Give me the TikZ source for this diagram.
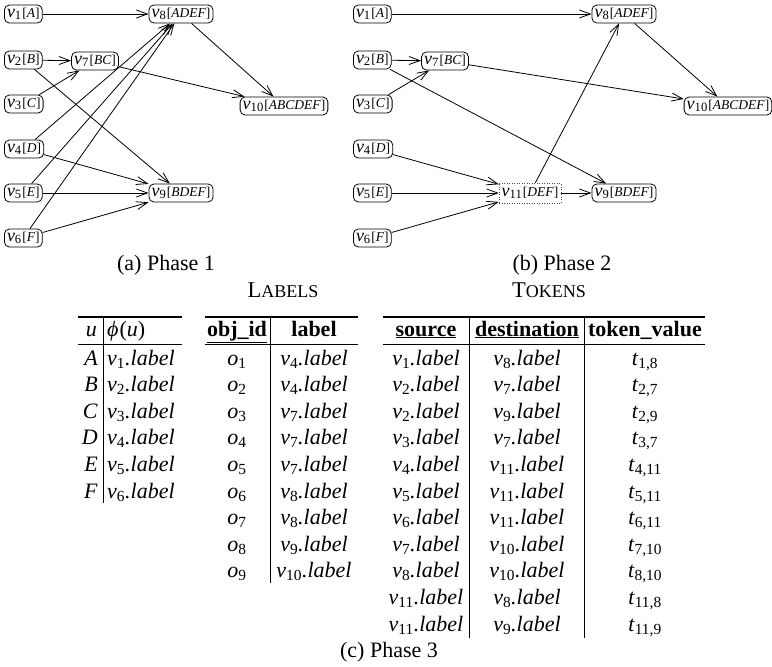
\documentclass[tikz,border=0pt]{standalone}
\usepackage{fontspec}
\setmainfont{Liberation Serif}
\usetikzlibrary{arrows.meta}

% vertex name v_i in text italic with an upright subscript
\newcommand\vx[1]{\textit{v}\textsubscript{#1}}
% graph vertex label: v_i followed by its set in a smaller size
\newcommand\gn[2]{{\fontsize{18}{20}\selectfont\vx{#1}\kern0.6pt{\fontsize{13.5}{15}\selectfont[\textit{#2}]}}}
% table entry v_i.label
\newcommand\lab[1]{\vx{#1}\textit{.label}}
\newcommand\obj[1]{\textit{o}\textsubscript{#1}}
\newcommand\tok[1]{\textit{t}\textsubscript{#1}}
% faked small capitals for the table titles
\newcommand\fakesc[2]{{\fontsize{22.5}{26}\selectfont #1}{\fontsize{18}{20}\selectfont #2}}

\tikzset{
  gnode/.style={draw, rounded corners=5pt, inner xsep=2.6pt, inner ysep=2pt,
                minimum height=18pt, line width=0.8pt},
  tnode/.style={draw=black!70, dash pattern=on 0.7pt off 1.8pt, inner xsep=2.6pt,
                inner ysep=2pt, minimum height=20pt, line width=0.6pt},
  edge/.style={-{Straight Barb[length=11pt,width=8pt]}, line width=0.8pt},
  cell/.style={font=\fontsize{22}{26}\selectfont, inner sep=0pt, anchor=base},
  toprule/.style={line width=1.4pt},
  midrule/.style={line width=1.0pt},
  colrule/.style={line width=0.9pt},
}

\begin{document}
\begin{tikzpicture}[x=1pt,y=-1pt]
\useasboundingbox (0,0) rectangle (772,667);

% ---------------- Phase 1 ----------------
\node[gnode, anchor=west] (a1) at (4,14)  {\gn{1}{A}};
\node[gnode, anchor=west] (a2) at (4,60)  {\gn{2}{B}};
\node[gnode, anchor=west] (a3) at (4,104) {\gn{3}{C}};
\node[gnode, anchor=west] (a4) at (4,149) {\gn{4}{D}};
\node[gnode, anchor=west] (a5) at (4,193) {\gn{5}{E}};
\node[gnode, anchor=west] (a6) at (4,238) {\gn{6}{F}};
\node[gnode] (a7)  at (95,61)   {\gn{7}{BC}};
\node[gnode] (a8)  at (181,14)  {\gn{8}{ADEF}};
\node[gnode] (a9)  at (181,193) {\gn{9}{BDEF}};
\node[gnode] (a10) at (284,106) {\gn{10}{ABCDEF}};

\draw[edge] (a1) -- (a8);
\draw[edge] (a2) -- (a7);
\draw[edge] (a3) -- (a7);
\draw[edge] (a2) -- (a9);
\draw[edge] (a4) -- (a8);
\draw[edge] (a5) -- (a8);
\draw[edge] (a6) -- (a8);
\draw[edge] (a4) -- (a9);
\draw[edge] (a5) -- (a9);
\draw[edge] (a6) -- (a9);
\draw[edge] (a7) -- (a10);
\draw[edge] (a8) -- (a10);

\node[cell] (capa) at (166,270) {(a) Phase 1};

% ---------------- Phase 2 ----------------
\node[gnode, anchor=west] (b1) at (353,14)  {\gn{1}{A}};
\node[gnode, anchor=west] (b2) at (353,60)  {\gn{2}{B}};
\node[gnode, anchor=west] (b3) at (353,104) {\gn{3}{C}};
\node[gnode, anchor=west] (b4) at (353,149) {\gn{4}{D}};
\node[gnode, anchor=west] (b5) at (353,193) {\gn{5}{E}};
\node[gnode, anchor=west] (b6) at (353,238) {\gn{6}{F}};
\node[gnode] (b7)  at (445,61)  {\gn{7}{BC}};
\node[gnode] (b8)  at (624,14)  {\gn{8}{ADEF}};
\node[gnode] (b9)  at (624,193) {\gn{9}{BDEF}};
\node[gnode] (b10) at (728,106) {\gn{10}{ABCDEF}};
\node[tnode] (b11) at (530,193) {\gn{11}{DEF}};

\draw[edge] (b1) -- (b8);
\draw[edge] (b2) -- (b7);
\draw[edge] (b3) -- (b7);
\draw[edge] (b2) -- (b9);
\draw[edge] (b7) -- (b10);
\draw[edge] (b8) -- (b10);
\draw[edge] (b4) -- (b11);
\draw[edge] (b5) -- (b11);
\draw[edge] (b6) -- (b11);
\draw[edge] (b11) -- (b9);
\draw[edge] (b11) -- (b8);

\node[cell] (capb) at (562,270) {(b) Phase 2};

% ---------------- Phase 3: tables ----------------
\node[cell] (tlabels) at (283,297) {\fakesc{L}{ABELS}};
\node[cell] (ttokens) at (549,297) {\fakesc{T}{OKENS}};

% table u -> phi(u)
\draw[toprule] (78,317) -- (182,317);
\draw[midrule] (78,344) -- (182,344);
\draw[colrule] (103,317) -- (103,503);
\node[cell, anchor=base east] (hu)   at (97,336)  {\textit{u}};
\node[cell, anchor=base west] (hphi) at (107,336) {\textit{ϕ}\kern1pt(\textit{u})};
\foreach \l [count=\i] in {A,B,C,D,E,F} {
  \node[cell, anchor=base east] (pu\i) at (98,{365+26.6*(\i-1)}) {\textit{\l}};
  \node[cell, anchor=base west] (pl\i) at (107,{365+26.6*(\i-1)}) {\lab{\i}};
}

% table LABELS
\draw[toprule] (205,317) -- (358,317);
\draw[midrule] (205,344) -- (358,344);
\draw[colrule] (270,317) -- (270,583);
\node[cell] (hobj) at (237,336) {\textbf{\underline{obj\_id}}};
\node[cell] (hlab) at (314,336) {\textbf{label}};
\foreach \v [count=\i] in {4,4,7,7,7,8,8,9,10} {
  \node[cell] (lo\i) at (237,{365+26.6*(\i-1)}) {\obj{\i}};
  \node[cell] (ll\i) at (314,{365+26.6*(\i-1)}) {\lab{\v}};
}

% table TOKENS
\draw[toprule] (383,317) -- (705,317);
\draw[midrule] (383,344) -- (705,344);
\draw[colrule] (469,317) -- (469,638);
\draw[colrule] (584,317) -- (584,638);
\node[cell] (hsrc) at (426,336) {\textbf{\underline{source}}};
\node[cell] (hdst) at (527,336) {\textbf{\underline{destination}}};
\node[cell] (htok) at (645,336) {\textbf{token\_value}};
\foreach \s/\d [count=\i] in {1/8,2/7,2/9,3/7,4/11,5/11,6/11,7/10,8/10,11/8,11/9} {
  \node[cell] (ts\i) at (426,{365+26.6*(\i-1)}) {\lab{\s}};
  \node[cell] (td\i) at (527,{365+26.6*(\i-1)}) {\lab{\d}};
  \node[cell] (tv\i) at (645,{365+26.6*(\i-1)}) {\tok{\s,\d}};
}

\node[cell] (capc) at (389,657) {(c) Phase 3};
\end{tikzpicture}
\end{document}
